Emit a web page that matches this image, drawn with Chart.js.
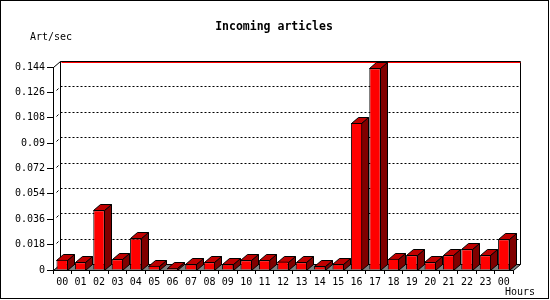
<!DOCTYPE html>
<html>
<head>
<meta charset="utf-8">
<script src="https://cdn.jsdelivr.net/npm/chart.js@4/dist/chart.umd.min.js"></script>
<style>
  html, body { margin: 0; padding: 0; background: #fff; }
  #chart { display: block; }
</style>
</head>
<body>
<canvas id="chart" width="550" height="300"></canvas>
<script>
// --- Data ---
const hours = ['00', '01', '02', '03', '04', '05', '06', '07', '08', '09', '10', '11',
               '12', '13', '14', '15', '16', '17', '18', '19', '20', '21', '22', '23', '00'];
const artPerSec = [0.0072, 0.0055, 0.0424, 0.0077, 0.0224, 0.0030, 0.0013, 0.0040, 0.0055, 0.0040, 0.0069, 0.0069,
                   0.0060, 0.0055, 0.0026, 0.0040, 0.1043, 0.1431, 0.0079, 0.0104, 0.0055, 0.0104, 0.0147, 0.0104, 0.0218];
const yTicks = [0, 0.018, 0.036, 0.054, 0.072, 0.09, 0.108, 0.126, 0.144];

// 3D depth of the box
const DX = 7, DY = -6;
const MONO = '"DejaVu Sans Mono", "Liberation Mono", monospace';

function px(v) { return Math.round(v) + 0.5; }

function line(ctx, x1, y1, x2, y2) {
    ctx.beginPath();
    ctx.moveTo(x1, y1);
    ctx.lineTo(x2, y2);
    ctx.stroke();
}

function poly(ctx, pts, fill) {
    ctx.beginPath();
    ctx.moveTo(pts[0][0], pts[0][1]);
    pts.slice(1).forEach(p => ctx.lineTo(p[0], p[1]));
    ctx.closePath();
    ctx.fillStyle = fill;
    ctx.fill();
    ctx.stroke();
}

// --- 3D box: floor, back wall, grid, bar sides and tops ---
const box3d = {
    id: 'box3d',
    beforeDatasetsDraw(chart) {
        const { ctx, chartArea: a, scales: { y } } = chart;
        const L = px(a.left), R = px(a.right), T = px(a.top), B = px(a.bottom);
        ctx.save();
        ctx.lineWidth = 1;
        ctx.strokeStyle = '#000';

        // floor
        poly(ctx, [[L, B], [R, B], [R + DX, B + DY], [L + DX, B + DY]], '#808080');

        // back wall
        line(ctx, L + DX, T + DY, R + DX, T + DY);
        line(ctx, L + DX, T + DY, L + DX, B + DY);
        line(ctx, R + DX, T + DY, R + DX, B + DY);
        line(ctx, L, T, L + DX, T + DY);

        // dotted grid on the back wall
        ctx.setLineDash([2, 2]);
        yTicks.slice(1, -1).forEach(v => {
            const py = px(y.getPixelForValue(v)) + DY;
            line(ctx, L + DX, py, R + DX, py);
        });
        ctx.setLineDash([]);

        // small connectors at the left side
        yTicks.slice(1, -1).forEach(v => {
            const py = px(y.getPixelForValue(v));
            line(ctx, L + 3, py - 2, L + 5, py - 4);
        });

        // peak line
        const peak = Math.max(...artPerSec);
        ctx.strokeStyle = '#ff0000';
        const pk = px(y.getPixelForValue(peak)) + DY;
        line(ctx, L + DX + 1, pk, R + DX, pk);
        ctx.strokeStyle = '#000';

        // bar side and top faces
        chart.getDatasetMeta(0).data.forEach(bar => {
            const l = px(bar.x - bar.width / 2), r = px(bar.x + bar.width / 2) - 1;
            const t = px(bar.y), b = px(bar.base);
            poly(ctx, [[r, t], [r + DX, t + DY], [r + DX, b + DY], [r, b]], '#800000');
            poly(ctx, [[l, t], [l + DX, t + DY], [r + DX, t + DY], [r, t]], '#c00000');
        });
        ctx.restore();
    },
    afterDraw(chart) {
        const { ctx } = chart;
        ctx.save();
        ctx.fillStyle = '#000';
        ctx.textBaseline = 'middle';

        ctx.font = 'bold 11.5px ' + MONO;
        ctx.textAlign = 'center';
        ctx.fillText('Incoming articles', 274, 27);

        ctx.font = '10px ' + MONO;
        ctx.textAlign = 'left';
        ctx.fillText('Art/sec', 30, 37);
        ctx.fillText('Hours', 505, 292);

        ctx.strokeStyle = '#000';
        ctx.lineWidth = 1;
        ctx.strokeRect(0.5, 0.5, 548, 298);
        ctx.restore();
    }
};

// --- Chart ---
new Chart(document.getElementById('chart'), {
    type: 'bar',
    data: {
        labels: hours,
        datasets: [{
            label: 'Art/sec',
            data: artPerSec,
            backgroundColor: '#ff0000',
            borderColor: '#000',
            borderWidth: 1,
            barPercentage: 0.62,
            categoryPercentage: 1
        }]
    },
    options: {
        responsive: false,
        animation: false,
        devicePixelRatio: 1,
        layout: { padding: { top: 67, left: 0, right: 37, bottom: 0 } },
        plugins: { legend: { display: false }, tooltip: { enabled: false } },
        scales: {
            x: {
                offset: true,
                grid: { drawOnChartArea: false, tickLength: 4, color: '#000', offset: true },
                border: { color: '#000' },
                ticks: { color: '#000', font: { family: MONO, size: 10 }, padding: 2, maxRotation: 0, autoSkip: false },
                afterFit: s => { s.height = 30; }
            },
            y: {
                min: 0, max: 0.144,
                afterBuildTicks: s => { s.ticks = yTicks.map(v => ({ value: v })); },
                grid: { drawOnChartArea: false, tickLength: 6, color: '#000' },
                border: { color: '#000' },
                ticks: { color: '#000', font: { family: MONO, size: 10 }, padding: 2, callback: v => String(v) },
                afterFit: s => { s.width = 53; }
            }
        }
    },
    plugins: [box3d]
});
</script>
</body>
</html>
